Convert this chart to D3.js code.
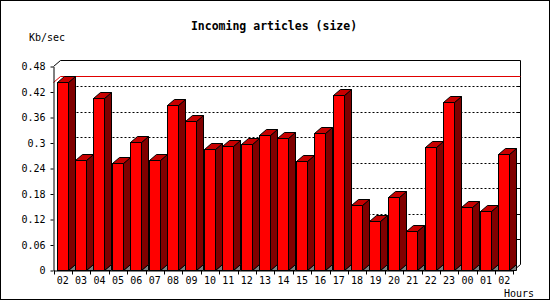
<!DOCTYPE html>
<html>
<head>
<meta charset="utf-8">
<script src="https://cdn.jsdelivr.net/npm/d3@7"></script>
<style>
body { margin: 0; background: #fff; }
svg { display: block; }
text { font-family: "DejaVu Sans Mono", monospace; fill: #000; }
</style>
</head>
<body>
<div class="chart"></div>
<script>
var hours = ["02", "03", "04", "05", "06", "07", "08", "09", "10", "11", "12", "13",
	"14", "15", "16", "17", "18", "19", "20", "21", "22", "23", "00", "01", "02"];
var kbps = [0.443, 0.259, 0.405, 0.252, 0.302, 0.259, 0.389, 0.352, 0.286, 0.294, 0.297, 0.318,
	0.311, 0.257, 0.323, 0.413, 0.155, 0.117, 0.172, 0.094, 0.290, 0.396, 0.149, 0.139, 0.275];
var yTicks = [0, 0.06, 0.12, 0.18, 0.24, 0.3, 0.36, 0.42, 0.48];
var yLabels = ["0", "0.06", "0.12", "0.18", "0.24", "0.3", "0.36", "0.42", "0.48"];

var width = 550, height = 300;
var plotLeft = 53.5, plotRight = 513.5, plotTop = 66.5, plotBottom = 270.5;
var dx = 7, dy = 6;

var svg = d3.select(".chart").append("svg").attr("width", width).attr("height", height);

// outer frame
svg.append("rect").attr("x", 0.5).attr("y", 0.5).attr("width", width - 1).attr("height", height - 1)
	.attr("fill", "#fff").attr("stroke", "#000");

var x = d3.scaleBand().domain(d3.range(hours.length)).range([plotLeft, plotRight]);
var y = d3.scaleLinear().domain([0, 0.48]).range([plotBottom, plotTop]);

// back of the 3d box
svg.append("path").attr("fill", "none").attr("stroke", "#000")
	.attr("d", "M" + plotLeft + "," + plotTop + "L" + (plotLeft + dx) + "," + (plotTop - dy)
		+ "H" + (plotRight + dx) + "V" + (plotBottom - dy) + "L" + plotRight + "," + plotBottom);

// dotted grid on back wall
var inner = yTicks.slice(1, -1);
svg.append("g").selectAll("line").data(inner).enter().append("line")
	.attr("x1", plotLeft + dx).attr("x2", plotRight + dx)
	.attr("y1", function(d) { return Math.round(y(d)) - dy + 0.5; })
	.attr("y2", function(d) { return Math.round(y(d)) - dy + 0.5; })
	.attr("stroke", "#000").attr("stroke-dasharray", "2,2");
svg.append("g").selectAll("line").data(inner).enter().append("line")
	.attr("x1", plotRight + dx - 4).attr("x2", plotRight + dx)
	.attr("y1", function(d) { return Math.round(y(d)) - dy + 0.5; })
	.attr("y2", function(d) { return Math.round(y(d)) - dy + 0.5; })
	.attr("stroke", "#000");

// max line
var ym = Math.round(y(d3.max(kbps))) + 0.5;
svg.append("path").attr("fill", "none").attr("stroke", "#e00000")
	.attr("d", "M" + plotLeft + "," + ym + "L" + (plotLeft + dx) + "," + (ym - dy) + "H" + (plotRight + dx));

// bars
var bw = x.bandwidth(), barW = 11, off = 3;
var bars = svg.append("g").attr("stroke", "#000").attr("stroke-linejoin", "miter");
kbps.forEach(function(v, i) {
	var x1 = Math.round(x(i) + off) + 0.5, x2 = x1 + barW;
	var yt = Math.round(y(v)) + 0.5, yb = plotBottom;
	bars.append("path").attr("fill", "#808080")
		.attr("d", "M" + x2 + "," + yb + "L" + (x2 + dx) + "," + (yb - dy) + "V" + yb + "Z");
	bars.append("path").attr("fill", "#800000")
		.attr("d", "M" + x2 + "," + yt + "L" + (x2 + dx) + "," + (yt - dy) + "V" + (yb - dy) + "L" + x2 + "," + yb + "Z");
	bars.append("rect").attr("fill", "#ff0000")
		.attr("x", x1).attr("y", yt).attr("width", barW).attr("height", yb - yt);
	bars.append("path").attr("fill", "#c80000")
		.attr("d", "M" + x1 + "," + yt + "L" + (x1 + dx) + "," + (yt - dy) + "H" + (x2 + dx) + "L" + x2 + "," + yt + "Z");
});

// axes
var yAxis = svg.append("g").attr("transform", "translate(" + plotLeft + ",0)")
	.call(d3.axisLeft(y).tickValues(yTicks).tickFormat(function(d, i) { return yLabels[i]; })
		.tickSize(3).tickSizeOuter(0).tickPadding(5));
var xAxis = svg.append("g").attr("transform", "translate(0," + plotBottom + ")")
	.call(d3.axisBottom(x).tickFormat(function(i) { return hours[i]; })
		.tickSize(0).tickPadding(6));
svg.selectAll(".tick text").attr("font-size", 10).style("font-family", "DejaVu Sans Mono");
svg.selectAll(".domain").attr("stroke", "#000");

// x ticks between categories
svg.append("g").selectAll("line").data(d3.range(hours.length + 1)).enter().append("line")
	.attr("x1", function(i) { return i < hours.length ? Math.round(x(i)) + 0.5 : plotRight; })
	.attr("x2", function(i) { return i < hours.length ? Math.round(x(i)) + 0.5 : plotRight; })
	.attr("y1", plotBottom).attr("y2", plotBottom + 4).attr("stroke", "#000");

// titles
svg.append("text").attr("x", 274).attr("y", 30).attr("text-anchor", "middle")
	.attr("font-size", 11.5).attr("font-weight", "bold").text("Incoming articles (size)");
svg.append("text").attr("x", 29).attr("y", 40.5).attr("font-size", 10).text("Kb/sec");
svg.append("text").attr("x", 534).attr("y", 296.5).attr("text-anchor", "end")
	.attr("font-size", 10).text("Hours");
</script>
</body>
</html>
